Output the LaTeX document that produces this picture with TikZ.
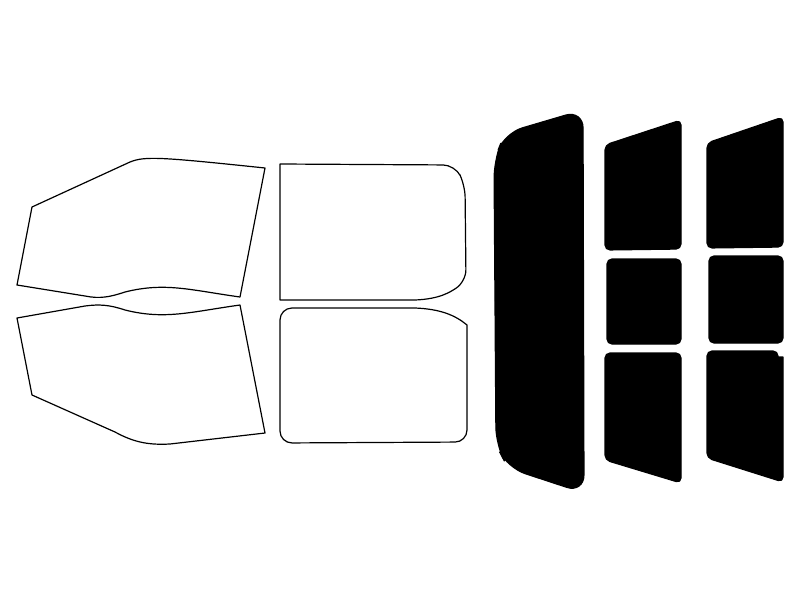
\documentclass[tikz,border=0pt]{standalone}
\begin{document}
\begin{tikzpicture}[x=1pt,y=-1pt,
  clear/.style={draw=black,line width=1.2pt,fill=white,line join=round},
  tint/.style={draw=black,line width=1.2pt,fill=black,rounded corners=5pt,line join=round}]
\useasboundingbox (0,0) rectangle (800,600);
% left doors
\draw[clear] (32,207) -- (130,162) .. controls (145,156) and (160,157) .. (265,168) -- (240,297)
  .. controls (190,290) and (165,282) .. (125,292) .. controls (110,297) and (100,299) .. (85,296) -- (17,285) -- cycle;
\draw[clear] (17,318) -- (85,306) .. controls (100,304) and (110,305) .. (125,310) .. controls (165,320) and (190,312) .. (240,305)
  -- (265,433) -- (170,444) .. controls (150,445) and (135,443) .. (115,432) -- (32,395) -- cycle;
% middle doors
\draw[clear,rounded corners=12pt] (280,164) -- (455,165) -- (465,185) -- (466,282) [sharp corners] .. controls (450,292) and (440,299) .. (415,300) -- (280,300) -- cycle;
\draw[clear,rounded corners=12pt] (280,308) [sharp corners] -- (415,308) .. controls (440,309) and (455,315) .. (467,325) [rounded corners=12pt] -- (467,442) -- (280,443) -- cycle;
% big rear
\draw[tint,rounded corners=18pt] (494,160) -- (505,133) -- (583,110) -- (584,493) -- (508,468) -- (496,445) -- cycle;
% column 1
\draw[tint] (605,145) -- (681,120) -- (681,249) -- (605,250) -- cycle;
\draw[tint] (607,259) rectangle (681,344);
\draw[tint] (605,353) -- (681,353) -- (681,483) -- (605,460) -- cycle;
% column 2
\draw[tint] (707,143) -- (783,117) -- (783,247) -- (707,248) -- cycle;
\draw[tint] (709,256) rectangle (783,343);
\draw[tint] (707,351) -- (778,351) [sharp corners] -- (778,357) -- (783,357) [rounded corners=5pt] -- (783,482) -- (707,458) -- cycle;
\end{tikzpicture}
\end{document}
